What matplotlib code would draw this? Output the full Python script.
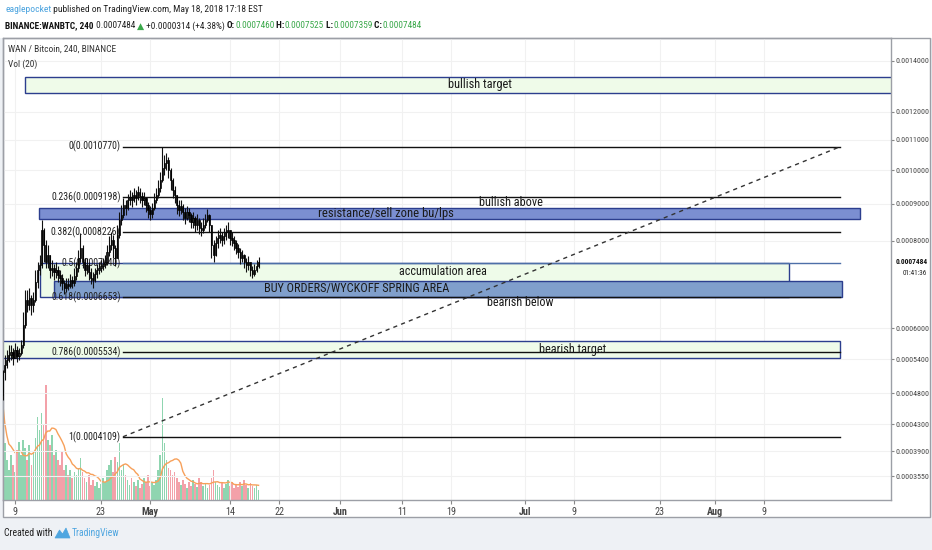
import numpy as np
import pandas as pd
import matplotlib
matplotlib.use("Agg")
import matplotlib.pyplot as plt
import matplotlib.dates as mdates
from matplotlib import font_manager as fm
from matplotlib.patches import Rectangle, Polygon
from matplotlib.ticker import FixedLocator, NullLocator
import matplotlib.transforms as mtrans

# ---- choose a narrow font if one is installed ----
_names = {f.name for f in fm.fontManager.ttflist}
narrow, stretch = None, "normal"
for cand in ["Liberation Sans Narrow", "Roboto Condensed", "Open Sans Condensed",
             "Noto Sans Condensed", "DejaVu Sans Condensed", "Noto Sans Display Condensed"]:
    if cand in _names:
        narrow = cand
        break
if narrow is None:
    for f in fm.fontManager.ttflist:
        st = f.stretch
        if f.style == "normal" and ((isinstance(st, str) and "condensed" in st) or
                                    (isinstance(st, (int, float)) and st < 500)):
            if "CJK" not in f.name:
                narrow, stretch = f.name, st
                break
if narrow is None:
    narrow = "Liberation Sans"
plt.rcParams["font.family"] = [narrow, "DejaVu Sans"]
plt.rcParams["font.stretch"] = stretch

# ---------------- data (prices in 1e-7 BTC) ----------------
start_time = "2018-04-07 00:00"
bar_freq = "8h"
open0_e7 = 4775
close_e7 = [5174, 5300, 5390, 5485, 5542, 5428, 5580, 5466, 5523, 5675,
            6078, 6600, 6495, 6645, 6495, 6600, 7005, 7285, 7403, 8285,
            7895, 7473, 7645, 7285, 7332, 7238, 7285, 7168, 7097, 6983,
            6870, 6960, 6915, 7050, 6983, 7144, 7332, 7570, 7820, 7473,
            7285, 7403, 7238, 7097, 7050, 7191, 7285, 7332, 7379, 7426,
            7473, 7720, 7895, 8020, 7820, 7570, 8153, 8550, 8690, 8970,
            8886, 9110, 9200, 9110, 9260, 9170, 9350, 9230, 9110, 9170,
            8970, 8830, 8718, 8886, 9110, 9260, 9470, 9710, 10082, 10237,
            10330, 10020, 9710, 9410, 9260, 8970, 8830, 8942, 8774, 8606,
            8774, 8690, 8497, 8606, 8418, 8550, 8338, 8285, 8418, 8550,
            8690, 8418, 7895, 7645, 7945, 8073, 8153, 8020, 8126, 8232,
            8285, 8073, 8020, 7945, 7820, 7720, 7570, 7645, 7473, 7403,
            7473, 7285, 7191, 7285, 7379, 7484]
high_e7 = [5210, 5485, 5580, 5675, 5675, 5618, 5713, 5656, 5618, 5770,
           6348, 6825, 6825, 6870, 6713, 6780, 7285, 7473, 7645, 8550,
           8338, 8020, 7895, 7645, 7520, 7426, 7473, 7379, 7285, 7191,
           7050, 7097, 7097, 7191, 7144, 7332, 7473, 7770, 8206, 7895,
           7570, 7570, 7473, 7332, 7238, 7332, 7426, 7473, 7520, 7570,
           7645, 7895, 8126, 8232, 8153, 7895, 8418, 8774, 8970, 9170,
           9110, 9290, 9410, 9350, 9470, 9410, 9530, 9470, 9350, 9350,
           9200, 9054, 8942, 9026, 9320, 9470, 9710, 9958, 10770, 10495,
           10560, 10430, 10082, 9772, 9530, 9260, 9110, 9110, 8998, 8886,
           8942, 8886, 8746, 8774, 8662, 8718, 8606, 8497, 8606, 8718,
           8858, 8718, 8418, 8020, 8126, 8285, 8338, 8232, 8338, 8418,
           8497, 8285, 8232, 8126, 8020, 7920, 7820, 7770, 7670, 7570,
           7620, 7473, 7379, 7426, 7520, 7595]
low_e7 = [4690, 5030, 5246, 5354, 5390, 5300, 5428, 5354, 5390, 5485,
          5618, 6000, 6348, 6390, 6285, 6348, 6558, 6870, 7168, 7332,
          7473, 7332, 7332, 7097, 7144, 7050, 7097, 7005, 6915, 6825,
          6735, 6780, 6825, 6870, 6870, 6915, 7050, 7238, 7473, 7332,
          7144, 7191, 7050, 6960, 6870, 7005, 7097, 7191, 7238, 7285,
          7332, 7403, 7620, 7770, 7570, 7379, 7570, 8073, 8418, 8606,
          8690, 8830, 8970, 8914, 9054, 8970, 9110, 9026, 8914, 8970,
          8774, 8606, 8550, 8606, 8830, 9026, 9170, 9350, 9650, 9865,
          10020, 9772, 9410, 9170, 9026, 8718, 8662, 8718, 8550, 8444,
          8550, 8497, 8338, 8338, 8232, 8285, 8179, 8126, 8206, 8338,
          8497, 8232, 7570, 7473, 7620, 7820, 7945, 7870, 7920, 8020,
          8073, 7895, 7870, 7770, 7670, 7570, 7426, 7473, 7332, 7238,
          7285, 7144, 7097, 7144, 7238, 7332]
volume_k = [97, 57, 40, 30, 45, 35, 28, 50, 58, 45,
            60, 52, 40, 55, 35, 48, 62, 83, 70, 87,
            75, 115, 60, 55, 65, 45, 50, 40, 35, 48,
            30, 35, 25, 30, 22, 28, 25, 32, 42, 28,
            22, 18, 25, 15, 20, 14, 18, 12, 16, 22,
            18, 30, 35, 40, 28, 43, 38, 57, 30, 35,
            25, 20, 15, 22, 18, 14, 20, 12, 16, 22,
            18, 25, 14, 18, 15, 20, 30, 45, 102, 57,
            40, 32, 30, 25, 28, 22, 18, 15, 20, 16,
            12, 18, 14, 20, 16, 13, 22, 18, 14, 17,
            12, 15, 22, 30, 18, 15, 13, 18, 12, 16,
            20, 14, 18, 12, 16, 13, 18, 14, 20, 15,
            12, 17, 14, 12, 15, 10]

fib_levels = ["0", "0.236", "0.382", "0.5", "0.618", "0.786", "1"]
fib_prices = [0.0010770, 0.0009198, 0.0008226, 0.0007440, 0.0006653, 0.0005534, 0.0004109]
fib_start, fib_end = "2018-04-26 14:00", "2018-08-21 10:00"

price_ticks = [0.0014, 0.0012, 0.0011, 0.0010, 0.0009, 0.0008, 0.0006,
               0.00054, 0.00048, 0.00043, 0.00039, 0.000355]
last_price = 0.0007484
date_ticks = ["2018-04-09", "2018-04-23", "2018-05-01", "2018-05-14", "2018-05-22",
              "2018-06-01", "2018-06-11", "2018-06-19", "2018-07-01", "2018-07-09",
              "2018-07-23", "2018-08-01", "2018-08-09"]
date_labels = ["9", "23", "May", "14", "22", "Jun", "11", "19", "Jul", "9", "23", "Aug", "9"]

# boxes: (label, start, end, top price, bottom price, face, text date, text price, text width px)
boxes = [
    ("bullish target", "2018-04-10 15:00", "2018-09-05", 0.0013334, 0.0012703, "#effbe9", "2018-06-23 16:00", 0.0013015, 64),
    ("resistance/sell zone bu/lps", "2018-04-12 22:00", "2018-08-24 14:00", 0.000888, 0.000859, "#7b8fd1", "2018-06-08 08:00", 0.000874, 135),
    ("accumulation area", "2018-04-13 02:00", "2018-08-13 02:00", 0.000744, 0.0006653, "#eefbe9", "2018-06-17 16:00", 0.000724, 87),
    ("BUY ORDERS/WYCKOFF SPRING AREA", "2018-04-15 08:00", "2018-08-21 16:00", 0.000703, 0.0006653, "#809fcc", "2018-06-03 16:00", 0.000685, 185),
    ("bearish target", "2018-04-01", "2018-08-21 10:00", 0.0005751, 0.0005428, "#effbe9", "2018-07-08 20:00", 0.000558, 67),
]
free_texts = [("bullish above", "2018-06-28 20:00", 0.000903, 64),
              ("bearish below", "2018-06-30 05:00", 0.0006537, 66)]

# ---------------- derived ----------------
close = np.array(close_e7) * 1e-7
opn = np.concatenate([[open0_e7 * 1e-7], close[:-1]])
high = np.maximum.reduce([np.array(high_e7) * 1e-7, opn, close])
low = np.minimum.reduce([np.array(low_e7) * 1e-7, opn, close])
vol = np.array(volume_k, dtype=float)
times = pd.date_range(start_time, periods=len(close), freq=bar_freq)
t = mdates.date2num(times.to_pydatetime())
up = close >= opn
vol_ma = pd.Series(vol).rolling(10, min_periods=1).mean().values

C = 0.00013
def fwd(p):
    return np.log(np.clip(np.asarray(p, dtype=float) + C, 1e-12, None))
def inv(y):
    return np.exp(y) - C

def dnum(s):
    return mdates.date2num(pd.Timestamp(s).to_pydatetime())

W, H = 932, 550
fig = plt.figure(figsize=(W / 100, H / 100), dpi=100)
fig.patch.set_facecolor("#eef1f5")
renderer = fig.canvas.get_renderer()

def size_for(s, target, weight="normal", base=10.0):
    tt = fig.text(0, 0, s, fontsize=base, fontweight=weight)
    w = tt.get_window_extent(renderer).width
    tt.remove()
    return base * target / w

# overlay in pixel coordinates for page decorations
deco = fig.add_axes([0, 0, 1, 1], zorder=0)
deco.set_xlim(0, W)
deco.set_ylim(H, 0)
deco.axis("off")
deco.add_patch(Rectangle((0, 0), W, 38, facecolor="white", edgecolor="none"))
deco.add_patch(Rectangle((3, 38), 927, 479, facecolor="white", edgecolor="#9c9fa6", lw=1))

# main axes
d0 = dnum("2018-04-09")
ppd = 6.14
xl = (d0 + (3 - 15) / ppd, d0 + (891 - 15) / ppd)
ax = fig.add_axes([3 / W, 50 / H, 888 / W, 462 / H], zorder=2)
axv = ax.twinx()
ax.set_zorder(3)
axv.set_zorder(2)
ax.patch.set_visible(False)
axv.patch.set_facecolor("white")

ax.set_yscale("function", functions=(fwd, inv))
ax.set_ylim(0.0003241, 0.0015002)
ax.set_xlim(*xl)

# volume
vcol = np.where(up, "#8fd5b0", "#f3a1a9")
axv.bar(t, vol, width=0.27, color=vcol, linewidth=0)
axv.plot(t, vol_ma, color="#f7a05a", lw=1.0)
axv.set_ylim(0, vol.max() * 4.02)
axv.set_xlim(*xl)
axv.set_yticks([])
for s in axv.spines.values():
    s.set_visible(False)

# grid
ax.set_axisbelow(True)
ax.grid(True, color="#f1f1f1", lw=0.8)

# boxes and texts
for (lab, ds, de, ptop, pbot, face, dtx, ptx, tw) in boxes:
    x0, x1 = dnum(ds), dnum(de)
    ax.add_patch(Rectangle((x0, pbot), x1 - x0, ptop - pbot, facecolor=face,
                           edgecolor="#2c3e8e", lw=1.0, zorder=1.5))
for (lab, ds, de, ptop, pbot, face, dtx, ptx, tw) in boxes:
    ax.text(dnum(dtx), ptx, lab, ha="center", va="center",
            fontsize=size_for(lab, tw), color="#1a1a1a", zorder=6)
for (lab, dtx, ptx, tw) in free_texts:
    ax.text(dnum(dtx), ptx, lab, ha="center", va="center",
            fontsize=size_for(lab, tw), color="#1a1a1a", zorder=6)

# fib
fs, fe = dnum(fib_start), dnum(fib_end)
fib_fs = size_for("0(0.0010770)", 52)
for lev, pr in zip(fib_levels, fib_prices):
    col = "#4d6fa8" if lev == "0.5" else "#111111"
    ax.plot([fs, fe], [pr, pr], color=col, lw=1.0, zorder=2)
    ax.text(fs - 0.4, pr, f"{lev}({pr:.7f})", ha="right", va="center",
            fontsize=fib_fs, color="#222222", zorder=2.5)
ax.plot([fs, fe], [fib_prices[-1], fib_prices[0]], color="#333333", lw=1.0,
        ls=(0, (3, 3)), zorder=2)

# candles
ax.vlines(t, low, high, color="#111111", lw=0.8, zorder=4)
bottoms = np.minimum(opn, close)
heights = np.maximum(np.abs(close - opn), 2e-7)
ax.bar(t, heights, bottom=bottoms, width=0.2, color=np.where(up, "#222222", "#000000"),
       edgecolor="#000000", lw=0.5, zorder=4)

# axes styling
for side in ["left", "top", "right", "bottom"]:
    ax.spines[side].set_color("#9c9fa6")
    ax.spines[side].set_linewidth(1.0)
ax.yaxis.tick_right()
ax.yaxis.set_major_locator(FixedLocator(price_ticks))
ax.yaxis.set_minor_locator(NullLocator())
ax.set_yticklabels([f"{v:.7f}" for v in price_ticks])
ytick_fs = size_for("0.0014000", 33)
ax.tick_params(axis="y", length=2, color="#888888", labelsize=ytick_fs,
               labelcolor="#444444", pad=1.5)
ax.xaxis.set_major_locator(FixedLocator([dnum(d) for d in date_ticks]))
ax.xaxis.set_minor_locator(NullLocator())
ax.set_xticklabels(date_labels)
xtick_fs = size_for("May", 17, weight="bold")
ax.tick_params(axis="x", length=3, color="#888888", labelsize=xtick_fs,
               labelcolor="#444444", pad=2)
for lbl, txt in zip(ax.get_xticklabels(), date_labels):
    if not txt.isdigit():
        lbl.set_fontweight("bold")

# last price label on axis
ytr = mtrans.blended_transform_factory(ax.transAxes, ax.transData)
ax.text(1.005, last_price, f"{last_price:.7f}", transform=ytr, ha="left", va="center",
        fontsize=size_for("0.0007484", 32, weight="bold"), fontweight="bold",
        color="#111111", clip_on=False,
        bbox=dict(facecolor="white", edgecolor="none", pad=0.5), zorder=10)
ax.annotate("01:41:36", xy=(1.0, last_price), xycoords=ytr, xytext=(12, -12),
            textcoords="offset pixels", ha="left", va="center",
            fontsize=size_for("01:41:36", 24), color="#222222",
            bbox=dict(facecolor="white", edgecolor="none", pad=0.5), zorder=10,
            annotation_clip=False)

# in-chart titles
title_fs = size_for("WAN / Bitcoin, 240, BINANCE", 108)
ax.annotate("WAN / Bitcoin, 240, BINANCE", xy=(0, 1), xycoords="axes fraction",
            xytext=(5, -11), textcoords="offset pixels", ha="left", va="center",
            fontsize=title_fs, color="#333333")
ax.annotate("Vol (20)", xy=(0, 1), xycoords="axes fraction",
            xytext=(5, -26), textcoords="offset pixels", ha="left", va="center",
            fontsize=title_fs, color="#333333")

# header lines
def chain(parts, x, y, size):
    prev = None
    for s, color, weight in parts:
        if prev is None:
            prev = deco.text(x, y, s, color=color, fontweight=weight, fontsize=size,
                             ha="left", va="center")
        else:
            prev = deco.annotate(s, xy=(1, 0.5), xycoords=prev, ha="left", va="center",
                                 color=color, fontweight=weight, fontsize=size)
    return prev

G = "#3aa84a"
line1 = [("eaglepocket", "#4aa3df", "normal"),
         (" published on TradingView.com, May 18, 2018 17:18 EST", "#222222", "normal")]
line2 = [("BINANCE:WANBTC, 240", "#111111", "bold"),
         (" 0.0007484 ", "#222222", "normal"),
         ("▲", G, "normal"),
         (" +0.0000314 (+4.38%) ", "#222222", "normal"),
         ("O:", "#111111", "bold"), ("0.0007460", G, "normal"),
         (" H:", "#111111", "bold"), ("0.0007525", G, "normal"),
         (" L:", "#111111", "bold"), ("0.0007359", G, "normal"),
         (" C:", "#111111", "bold"), ("0.0007484", G, "normal")]
chain(line1, 5, 10, size_for("".join(p[0] for p in line1), 255))
chain(line2, 5, 26, size_for("".join(p[0] for p in line2), 410))

# footer
foot_fs = size_for("Created with", 48)
deco.text(4, 533, "Created with", fontsize=foot_fs, color="#222222", ha="left", va="center")
deco.add_patch(Polygon([(55, 538), (59.5, 530), (62.5, 534), (66, 528), (70, 538)],
                       closed=True, facecolor="#4fa6e0", edgecolor="#4fa6e0", lw=0.5))
deco.text(72, 533, "TradingView", fontsize=size_for("TradingView", 47), color="#4fa6e0",
          ha="left", va="center")

fig.savefig("out.png", dpi=100, facecolor=fig.get_facecolor())
